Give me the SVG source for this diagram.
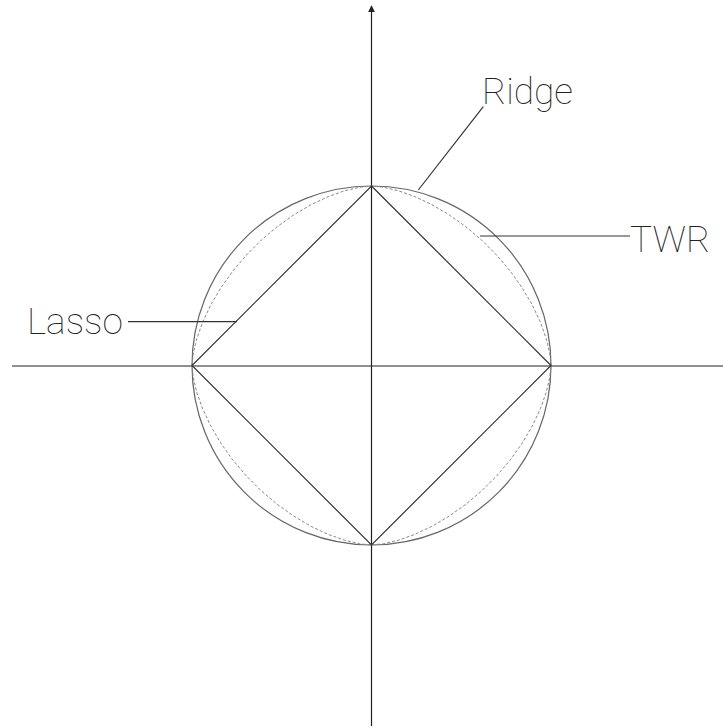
<svg xmlns="http://www.w3.org/2000/svg" width="723" height="728" viewBox="0 0 723 728">
  <style>
    .axis { stroke: #222; stroke-width: 1.2; fill: none; }
    .ridge { stroke: #666; stroke-width: 1.2; fill: none; }
    .twr { stroke: #888; stroke-width: 1; stroke-dasharray: 3 2; fill: none; }
    .lasso { stroke: #333; stroke-width: 1.2; fill: none; }
    .leader { stroke: #333; stroke-width: 1.2; fill: none; }
    .label { font-family: Roboto, "Liberation Sans", sans-serif; font-weight: 100; font-size: 37px; fill: #222; }
  </style>
  <defs>
    <marker id="arrow" viewBox="0 0 10 10" refX="9" refY="5" markerWidth="7" markerHeight="7" markerUnits="userSpaceOnUse" orient="auto">
      <path d="M0,0 L10,5 L0,10 z" fill="#222"/>
    </marker>
  </defs>
  <rect width="723" height="728" fill="#fff"/>
  <g id="axes">
    <line class="axis" x1="12" y1="366" x2="723" y2="366"/>
    <line class="axis" x1="371.5" y1="726" x2="371.5" y2="6" marker-end="url(#arrow)"/>
  </g>
  <g id="ridge-shape">
    <circle class="ridge" cx="371.5" cy="365.5" r="179.5"/>
  </g>
  <g id="twr-shape" transform="translate(371.5,365.5)">
    <polygon class="twr" points="179.5,0 178.31,-11.62 174.76,-26.75 168.91,-43.24 160.87,-60.33 150.78,-77.48 138.84,-94.27 125.26,-110.30 110.30,-125.26 94.27,-138.84 77.48,-150.78 60.33,-160.87 43.24,-168.91 26.75,-174.76 11.62,-178.31 0,-179.5 -11.62,-178.31 -26.75,-174.76 -43.24,-168.91 -60.33,-160.87 -77.48,-150.78 -94.27,-138.84 -110.30,-125.26 -125.26,-110.30 -138.84,-94.27 -150.78,-77.48 -160.87,-60.33 -168.91,-43.24 -174.76,-26.75 -178.31,-11.62 -179.5,0 -178.31,11.62 -174.76,26.75 -168.91,43.24 -160.87,60.33 -150.78,77.48 -138.84,94.27 -125.26,110.30 -110.30,125.26 -94.27,138.84 -77.48,150.78 -60.33,160.87 -43.24,168.91 -26.75,174.76 -11.62,178.31 0,179.5 11.62,178.31 26.75,174.76 43.24,168.91 60.33,160.87 77.48,150.78 94.27,138.84 110.30,125.26 125.26,110.30 138.84,94.27 150.78,77.48 160.87,60.33 168.91,43.24 174.76,26.75 178.31,11.62"/>
  </g>
  <g id="lasso-shape">
    <polygon class="lasso" points="371.5,186 551,365.5 371.5,545 192,365.5"/>
  </g>
  <g id="connectors">
    <line class="leader" x1="418.3" y1="190" x2="483.3" y2="106.7"/>
    <line class="leader" x1="480" y1="236" x2="630" y2="236"/>
    <line class="leader" x1="128" y1="321.7" x2="237" y2="321.7"/>
  </g>
  <g id="label-ridge">
    <text class="label" x="482" y="104">Ridge</text>
  </g>
  <g id="label-twr">
    <text class="label" x="630" y="252">TWR</text>
  </g>
  <g id="label-lasso">
    <text class="label" x="27" y="334">Lasso</text>
  </g>
</svg>
